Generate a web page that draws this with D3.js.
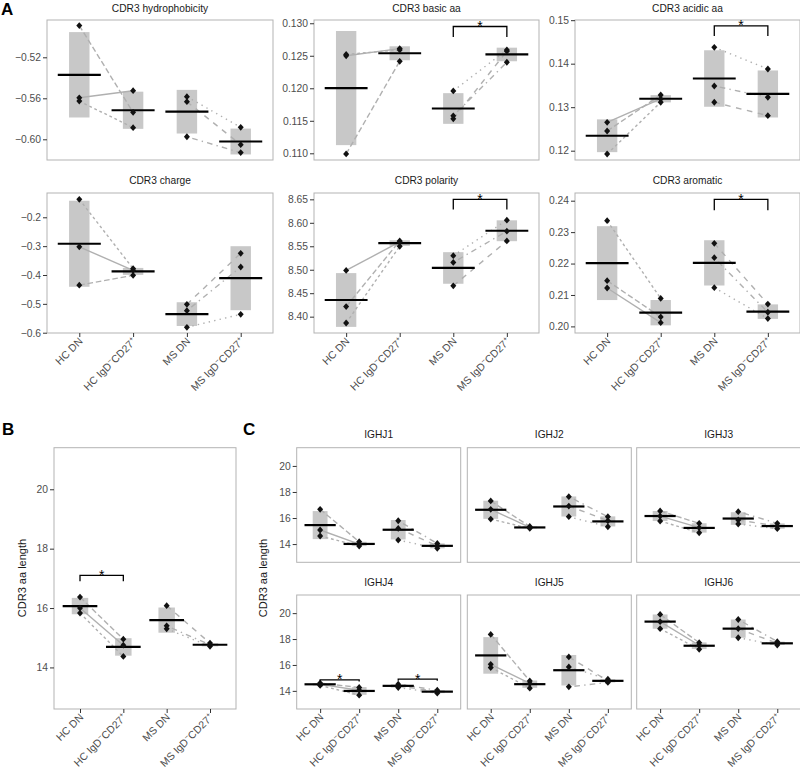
<!DOCTYPE html>
<html><head><meta charset="utf-8">
<script src="https://cdn.jsdelivr.net/npm/d3@7"></script>
<style>body{margin:0;background:#fff} text{font-family:"Liberation Sans",Arial,sans-serif}</style>
</head><body>
<svg id="c" width="800" height="778"></svg>
<script>
// ---------- DATA ----------
// rows: HC DN, HC IgD-CD27+, MS DN, MS IgD-CD27+ ; columns: donor 1..3 of each cohort
const groups = ["HC DN", "HC IgD-CD27+", "MS DN", "MS IgD-CD27+"];

const hydrophobicity = [
  [-0.5595, -0.5627, -0.4890],
  [-0.5526, -0.5887, -0.5737],
  [-0.5633, -0.5584, -0.5975],
  [-0.6052, -0.5883, -0.6130]];
const basicAA = [
  [0.1250, 0.1252, 0.1099],
  [0.1261, 0.1259, 0.12415],
  [0.1153, 0.1196, 0.11577],
  [0.1257, 0.1259, 0.1240]];
const acidicAA = [
  [0.12653, 0.11924, 0.12453],
  [0.1319, 0.13113, 0.1328],
  [0.13113, 0.14377, 0.13487],
  [0.12805, 0.13878, 0.13228]];
const charge = [
  [-0.3024, -0.1376, -0.4352],
  [-0.3837, -0.3778, -0.4010],
  [-0.5016, -0.5813, -0.5237],
  [-0.3248, -0.5362, -0.3723]];
const polarity = [
  [8.4985, 8.3865, 8.4216],
  [8.5592, 8.5500, 8.5613],
  [8.4658, 8.5299, 8.5156],
  [8.5613, 8.6057, 8.5822]];
const aromatic = [
  [0.21222, 0.23364, 0.21455],
  [0.2012, 0.2089, 0.2030],
  [0.22645, 0.21233, 0.22187],
  [0.2071, 0.2025, 0.2045]];

const cdr3Length = [
  [16.00, 15.83, 16.37],
  [14.75, 14.37, 14.95],
  [16.08, 15.30, 15.40],
  [14.82, 14.71, 14.76]];

const ighj1 = [[15.08, 14.62, 16.67],[14.00, 13.85, 14.18],[15.20, 14.31, 15.79],[13.87, 13.67, 14.05]];
const ighj2 = [[16.67, 15.92, 17.31],[15.28, 15.20, 15.35],[16.92, 16.10, 17.64],[15.79, 15.33, 16.10]];
const ighj3 = [[16.15, 15.77, 16.54],[15.26, 14.87, 15.59],[15.85, 15.54, 16.49],[15.38, 15.18, 15.59]];
const ighj4 = [[14.50, 14.42, 14.60],[14.05, 13.67, 14.26],[14.38, 14.26, 14.52],[13.95, 13.82, 14.05]];
const ighj5 = [[16.05, 15.80, 18.36],[14.57, 14.21, 14.77],[16.62, 15.85, 14.31],[14.77, 14.90, 14.65]];
const ighj6 = [[19.34, 18.80, 19.90],[17.52, 17.21, 17.72],[18.80, 18.10, 19.51],[17.67, 17.54, 17.80]];

// axis limits and tick values
const hydroDomain = [-0.6202, -0.4836], hydroTicks = [-0.60, -0.56, -0.52];
const basicDomain = [0.10897, 0.1305], basicTicks = [0.110, 0.115, 0.120, 0.125, 0.130];
const acidicDomain = [0.11786, 0.15004], acidicTicks = [0.12, 0.13, 0.14, 0.15];
const chargeDomain = [-0.601, -0.1158], chargeTicks = [-0.6, -0.5, -0.4, -0.3, -0.2];
const polarityDomain = [8.3652, 8.6635], polarityTicks = [8.40, 8.45, 8.50, 8.55, 8.60, 8.65];
const aromaticDomain = [0.1979, 0.24245], aromaticTicks = [0.20, 0.21, 0.22, 0.23, 0.24];
const lengthDomain = [12.6, 21.4], lengthTicks = [14, 16, 18, 20];

// significance brackets: [group from, group to, bar value, tip value]
const basicSig = [[2, 3, 0.1295, 0.1279]];
const acidicSig = [[2, 3, 0.14867, 0.14637]];
const polaritySig = [[2, 3, 8.65, 8.6286]];
const aromaticSig = [[2, 3, 0.2404, 0.2370]];
const lengthSig = [[0, 1, 17.1, 16.9]];
const ighj4Sig = [[0, 1, 14.85, 14.72], [2, 3, 14.9, 14.78]];

// ---------- DRAWING ----------
const svg = d3.select("#c");
const donorDash = [null, "2.8,2.8", "5.6,2.8", "5.6,5.6", "1.4,4.2", "1.4,4.2,5.6,4.2"];
const diamond = "M0,-3.4L3,0L0,3.4L-3,0Z";

function xLabel(g, xp, yb, name) {
  const t = g.append("text")
    .attr("transform", `translate(${xp + 4},${yb + 9}) rotate(-45)`)
    .attr("text-anchor", "end").attr("font-size", 10.5).attr("fill", "#4d4d4d");
  if (name.includes("IgD")) {
    const pre = name.startsWith("HC") ? "HC IgD" : "MS IgD";
    t.append("tspan").text(pre);
    t.append("tspan").attr("dy", -4).attr("font-size", 7).text("\u2212");
    t.append("tspan").attr("dy", 4).text("CD27");
    t.append("tspan").attr("dy", -4).attr("font-size", 7).text("+");
  } else t.text(name);
}

function drawPanel(p) {
  const g = svg.append("g");
  const x = d3.scalePoint().domain(groups).range([p.x0, p.x0 + p.w]).padding(0.6);
  const y = d3.scaleLinear().domain(p.domain).range([p.y0 + p.h, p.y0]);
  const bw = x.step() * 0.38, lw = x.step() * 0.8;
  const stats = p.data.map(v => ({m: d3.mean(v), s: d3.deviation(v)}));

  // mean ± sd boxes
  g.selectAll("rect.box").data(stats).join("rect")
    .attr("x", (d, i) => x(groups[i]) - bw / 2).attr("width", bw)
    .attr("y", d => y(d.m + d.s)).attr("height", d => y(d.m - d.s) - y(d.m + d.s))
    .attr("fill", "#c8c8c8");

  // paired donor lines
  const segs = [];
  for (let c = 0; c < 2; c++) for (let j = 0; j < 3; j++)
    segs.push({x1: x(groups[2 * c]), y1: y(p.data[2 * c][j]), x2: x(groups[2 * c + 1]), y2: y(p.data[2 * c + 1][j]), k: 3 * c + j});
  g.selectAll("line.pair").data(segs).join("line")
    .attr("x1", d => d.x1).attr("y1", d => d.y1).attr("x2", d => d.x2).attr("y2", d => d.y2)
    .attr("stroke", "#b0b0b0").attr("stroke-width", 1.4)
    .attr("stroke-dasharray", d => donorDash[d.k]);

  // mean lines
  g.selectAll("line.mean").data(stats).join("line")
    .attr("x1", (d, i) => x(groups[i]) - lw / 2).attr("x2", (d, i) => x(groups[i]) + lw / 2)
    .attr("y1", d => y(d.m)).attr("y2", d => y(d.m))
    .attr("stroke", "#000").attr("stroke-width", 2.2);

  // points
  const pts = [];
  p.data.forEach((v, i) => v.forEach(val => pts.push({gx: x(groups[i]), gy: y(val)})));
  g.selectAll("path.pt").data(pts).join("path")
    .attr("d", diamond).attr("transform", d => `translate(${d.gx},${d.gy})`).attr("fill", "#111");

  // frame
  g.append("rect").attr("x", p.x0).attr("y", p.y0).attr("width", p.w).attr("height", p.h)
    .attr("fill", "none").attr("stroke", "#b3b3b3").attr("stroke-width", 1);

  // significance
  (p.sig || []).forEach(s => {
    const xa = x(groups[s[0]]), xb = x(groups[s[1]]);
    g.append("path").attr("d", `M${xa},${y(s[3])}V${y(s[2])}H${xb}V${y(s[3])}`)
      .attr("fill", "none").attr("stroke", "#000").attr("stroke-width", 1.3);
    g.append("text").attr("x", (xa + xb) / 2).attr("y", y(s[2]) + 4.5)
      .attr("text-anchor", "middle").attr("font-size", 14).attr("fill", "#000").text("*");
  });

  // y axis
  if (p.showY) {
    const ax = g.append("g").attr("transform", `translate(${p.x0},0)`)
      .call(d3.axisLeft(y).tickValues(p.ticks).tickFormat(d3.format(p.fmt)).tickSize(4).tickSizeOuter(0));
    ax.select(".domain").remove();
    ax.selectAll(".tick line").attr("stroke", "#333");
    ax.selectAll(".tick text").attr("fill", "#4d4d4d").attr("font-size", 10.3)
      .attr("font-family", '"Liberation Sans",Arial,sans-serif').attr("x", -6);
  }
  // x axis
  if (p.showX) {
    const ax = g.append("g").attr("transform", `translate(0,${p.y0 + p.h})`)
      .call(d3.axisBottom(x).tickSize(4).tickSizeOuter(0));
    ax.select(".domain").remove();
    ax.selectAll(".tick line").attr("stroke", "#333");
    ax.selectAll(".tick text").remove();
    groups.forEach(n => xLabel(g, x(n), p.y0 + p.h, n));
  }
  // strip title
  if (p.title) g.append("text").attr("x", p.x0 + p.w / 2).attr("y", p.titleY)
    .attr("text-anchor", "middle").attr("font-size", 10.2).attr("fill", "#1a1a1a").text(p.title);
}

// Panel A
const aCols = [[47, 226], [314, 225], [575, 225]];
const aRows = [[20, 11.5], [193, 184]];
[
  {title: "CDR3 hydrophobicity", data: hydrophobicity, domain: hydroDomain, ticks: hydroTicks, fmt: ".2f"},
  {title: "CDR3 basic aa", data: basicAA, domain: basicDomain, ticks: basicTicks, fmt: ".3f", sig: basicSig},
  {title: "CDR3 acidic aa", data: acidicAA, domain: acidicDomain, ticks: acidicTicks, fmt: ".2f", sig: acidicSig},
  {title: "CDR3 charge", data: charge, domain: chargeDomain, ticks: chargeTicks, fmt: ".1f"},
  {title: "CDR3 polarity", data: polarity, domain: polarityDomain, ticks: polarityTicks, fmt: ".2f", sig: polaritySig},
  {title: "CDR3 aromatic", data: aromatic, domain: aromaticDomain, ticks: aromaticTicks, fmt: ".2f", sig: aromaticSig}
].forEach((p, i) => {
  const c = i % 3, r = Math.floor(i / 3);
  drawPanel(Object.assign(p, {x0: aCols[c][0], w: aCols[c][1], y0: aRows[r][0], h: 140,
    titleY: aRows[r][1], showY: true, showX: r === 1}));
});

// Panel B
drawPanel({data: cdr3Length, domain: lengthDomain, ticks: lengthTicks, fmt: "d", sig: lengthSig,
  x0: 54, w: 182, y0: 447.7, h: 261.3, showY: true, showX: true});

// Panel C
const cCols = [296.7, 467.3, 636.7];
const cRows = [[447.7, 438], [595, 585.5]];
[
  {title: "IGHJ1", data: ighj1}, {title: "IGHJ2", data: ighj2}, {title: "IGHJ3", data: ighj3},
  {title: "IGHJ4", data: ighj4, sig: ighj4Sig}, {title: "IGHJ5", data: ighj5}, {title: "IGHJ6", data: ighj6}
].forEach((p, i) => {
  const c = i % 3, r = Math.floor(i / 3);
  drawPanel(Object.assign(p, {domain: lengthDomain, ticks: lengthTicks, fmt: "d",
    x0: cCols[c], w: 164, y0: cRows[r][0], h: r === 0 ? 114.6 : 114, titleY: cRows[r][1],
    showY: c === 0, showX: r === 1}));
});

// axis titles
svg.append("text").attr("transform", "translate(26,578) rotate(-90)").attr("text-anchor", "middle")
  .attr("font-size", 11).attr("fill", "#1a1a1a").text("CDR3 aa length");
svg.append("text").attr("transform", "translate(267,578) rotate(-90)").attr("text-anchor", "middle")
  .attr("font-size", 11).attr("fill", "#1a1a1a").text("CDR3 aa length");

// panel letters
[["A", 1, 15], ["B", 2, 435], ["C", 243, 435]].forEach(l =>
  svg.append("text").attr("x", l[1]).attr("y", l[2]).attr("font-size", 17).attr("font-weight", "bold")
    .attr("fill", "#000").text(l[0]));
</script>
</body></html>
